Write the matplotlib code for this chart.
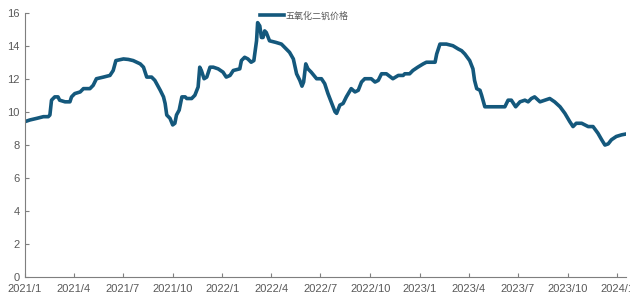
import pandas as pd
import matplotlib
matplotlib.use("Agg")
import matplotlib.pyplot as plt

plt.rcParams["font.family"] = ["Liberation Sans Narrow", "Liberation Sans", "DejaVu Sans"]

# 五氧化二钒价格
dates = [
    "2021-01-01", "2021-01-10", "2021-01-23", "2021-02-04", "2021-02-13", "2021-02-16",
    "2021-02-19", "2021-02-25", "2021-03-03", "2021-03-06", "2021-03-16", "2021-03-25",
    "2021-03-28", "2021-04-03", "2021-04-13", "2021-04-19", "2021-05-01", "2021-05-07",
    "2021-05-13", "2021-05-26", "2021-06-07", "2021-06-13", "2021-06-18", "2021-07-02",
    "2021-07-11", "2021-07-20", "2021-08-02", "2021-08-08", "2021-08-14", "2021-08-23",
    "2021-08-29", "2021-09-08", "2021-09-14", "2021-09-17", "2021-09-20", "2021-09-26",
    "2021-10-01", "2021-10-05", "2021-10-08", "2021-10-13", "2021-10-18", "2021-10-24",
    "2021-10-27", "2021-11-05", "2021-11-11", "2021-11-17", "2021-11-20", "2021-11-23",
    "2021-11-28", "2021-12-03", "2021-12-09", "2021-12-15", "2021-12-24",
    "2022-01-02", "2022-01-08", "2022-01-15", "2022-01-21", "2022-02-02", "2022-02-05",
    "2022-02-11", "2022-02-17", "2022-02-23", "2022-02-28", "2022-03-05", "2022-03-07",
    "2022-03-11", "2022-03-14", "2022-03-17", "2022-03-20", "2022-03-23", "2022-03-29",
    "2022-04-10", "2022-04-20", "2022-04-26", "2022-05-05", "2022-05-12", "2022-05-18",
    "2022-05-24", "2022-05-28", "2022-05-31", "2022-06-04", "2022-06-08", "2022-06-14",
    "2022-06-24", "2022-07-03", "2022-07-09", "2022-07-15", "2022-07-22", "2022-07-28",
    "2022-07-31", "2022-08-06", "2022-08-12", "2022-08-18", "2022-08-27", "2022-09-03",
    "2022-09-09", "2022-09-15", "2022-09-21", "2022-10-03", "2022-10-10", "2022-10-16",
    "2022-10-22", "2022-10-31", "2022-11-12", "2022-11-22", "2022-12-01", "2022-12-04",
    "2022-12-13", "2022-12-19", "2022-12-28",
    "2023-01-07", "2023-01-13", "2023-01-29", "2023-02-01", "2023-02-07", "2023-02-19",
    "2023-03-03", "2023-03-13", "2023-03-19", "2023-03-25", "2023-04-03", "2023-04-09",
    "2023-04-12", "2023-04-16", "2023-04-22", "2023-04-25", "2023-05-01", "2023-05-10",
    "2023-06-07", "2023-06-13", "2023-06-19", "2023-06-27", "2023-07-05", "2023-07-14",
    "2023-07-20", "2023-07-26", "2023-08-01", "2023-08-11", "2023-08-20", "2023-08-29",
    "2023-09-07", "2023-09-17", "2023-09-26", "2023-10-05", "2023-10-11", "2023-10-17",
    "2023-10-27", "2023-11-08", "2023-11-17", "2023-11-26", "2023-12-03", "2023-12-09",
    "2023-12-15", "2023-12-21", "2023-12-30", "2024-01-09", "2024-01-17",
]
prices = [
    9.4, 9.5, 9.6, 9.7, 9.7, 9.8,
    10.7, 10.9, 10.9, 10.7, 10.6, 10.6,
    10.9, 11.1, 11.2, 11.4, 11.4, 11.6,
    12.0, 12.1, 12.2, 12.5, 13.1, 13.2,
    13.17, 13.1, 12.9, 12.7, 12.1, 12.1,
    11.9, 11.3, 10.9, 10.5, 9.8, 9.6,
    9.2, 9.3, 9.8, 10.1, 10.9, 10.9,
    10.8, 10.8, 11.0, 11.5, 12.7, 12.5,
    12.0, 12.1, 12.7, 12.7, 12.6,
    12.4, 12.1, 12.2, 12.5, 12.6, 13.1,
    13.3, 13.2, 13.0, 13.1, 14.3, 15.4,
    15.2, 14.5, 14.5, 14.9, 14.8, 14.3,
    14.2, 14.1, 13.9, 13.6, 13.2, 12.3,
    11.9, 11.55, 11.8, 12.9, 12.6, 12.4,
    12.0, 12.0, 11.7, 11.1, 10.5, 10.0,
    9.9, 10.4, 10.5, 10.9, 11.4, 11.2,
    11.3, 11.8, 12.0, 12.0, 11.8, 11.9,
    12.3, 12.3, 12.0, 12.2, 12.2, 12.3,
    12.3, 12.5, 12.7,
    12.9, 13.0, 13.0, 13.5, 14.1, 14.1,
    14.0, 13.8, 13.7, 13.5, 13.1, 12.6,
    11.9, 11.4, 11.3, 11.0, 10.3, 10.3,
    10.3, 10.7, 10.7, 10.3, 10.6, 10.7,
    10.6, 10.8, 10.9, 10.6, 10.7, 10.8,
    10.6, 10.3, 9.9, 9.4, 9.1, 9.3,
    9.3, 9.1, 9.1, 8.7, 8.3, 7.98,
    8.05, 8.3, 8.5, 8.6, 8.65,
]
tick_dates = [
    "2021-01-01", "2021-04-01", "2021-07-01", "2021-10-01", "2022-01-01",
    "2022-04-01", "2022-07-01", "2022-10-01", "2023-01-01", "2023-04-01",
    "2023-07-01", "2023-10-01", "2024-01-01",
]
tick_labels = [
    "2021/1", "2021/4", "2021/7", "2021/10", "2022/1", "2022/4", "2022/7",
    "2022/10", "2023/1", "2023/4", "2023/7", "2023/10", "2024/1",
]
series_name = "五氧化二钒价格"

df = pd.DataFrame({"date": pd.to_datetime(dates), "price": prices})

fig = plt.figure(figsize=(6.3, 3.02), dpi=100)
ax = fig.add_axes([0.0397, 0.0838, 0.954, 0.874])

line_color = "#14587c"
grey = "#7f7f7f"
ax.plot(df["date"], df["price"], color=line_color, linewidth=2.6,
        solid_joinstyle="round", label=series_name)

ax.set_xlim(pd.Timestamp("2021-01-01"), pd.Timestamp("2024-01-17"))
ax.set_ylim(0, 16)
ax.set_yticks(range(0, 17, 2))
ax.set_xticks(pd.to_datetime(tick_dates))
ax.set_xticklabels(tick_labels)

for side in ["top", "right"]:
    ax.spines[side].set_visible(False)
for side in ["left", "bottom"]:
    ax.spines[side].set_color(grey)
    ax.spines[side].set_linewidth(0.8)
ax.tick_params(axis="both", direction="in", length=3, width=0.8, color=grey,
               labelcolor="#595959", labelsize=8)
ax.tick_params(axis="x", pad=5)
ax.tick_params(axis="y", pad=4)

leg = fig.legend(loc="center", bbox_to_anchor=(0.483, 0.948), frameon=False,
                 handlelength=2.6, handletextpad=0.2, borderpad=0,
                 prop={"family": ["Noto Sans CJK SC", "DejaVu Sans"], "size": 6.5})
for t in leg.get_texts():
    t.set_color("#595959")

fig.savefig("out.png", dpi=100)
